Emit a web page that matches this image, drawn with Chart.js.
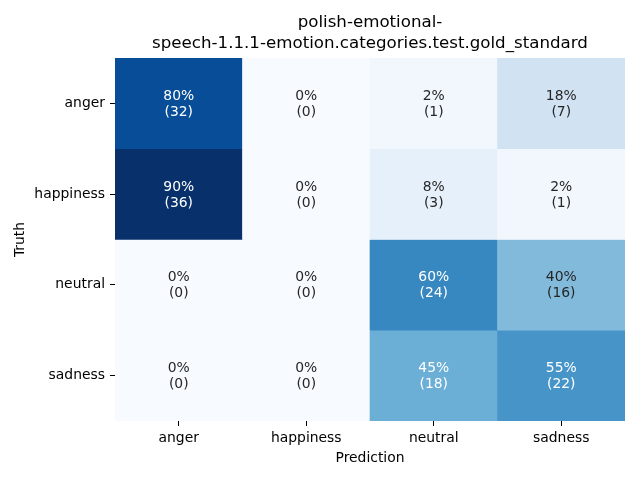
<!DOCTYPE html>
<html>
<head>
<meta charset="utf-8">
<script src="https://cdn.jsdelivr.net/npm/chart.js@4/dist/chart.umd.min.js"></script>
<style>
html,body{margin:0;padding:0;background:#fff;}
#wrap{width:640px;height:480px;}
</style>
</head>
<body>
<div id="wrap"><canvas id="c" width="640" height="480"></canvas></div>
<script>
const titleLines = ["polish-emotional-", "speech-1.1.1-emotion.categories.test.gold_standard"];
const predictionLabels = ["anger", "happiness", "neutral", "sadness"];
const truthLabels = ["anger", "happiness", "neutral", "sadness"];
const angerCounts = [32, 0, 1, 7];
const happinessCounts = [36, 0, 3, 1];
const neutralCounts = [0, 0, 24, 16];
const sadnessCounts = [0, 0, 18, 22];
const countRows = [angerCounts, happinessCounts, neutralCounts, sadnessCounts];

const FONT = "'DejaVu Sans', sans-serif";
const blues = ["#f7fbff","#deebf7","#c6dbef","#9ecae1","#6baed6","#4292c6","#2171b5","#08519c","#08306b"];
function hex2rgb(h){return [1,3,5].map(i=>parseInt(h.substr(i,2),16));}
function bluesAt(t){
  t=Math.max(0,Math.min(1,t));
  const p=t*(blues.length-1); const i=Math.min(Math.floor(p),blues.length-2); const f=p-i;
  const a=hex2rgb(blues[i]), b=hex2rgb(blues[i+1]);
  return a.map((v,k)=>Math.round(v+(b[k]-v)*f));
}
function lum(rgb){
  const c=rgb.map(v=>{v/=255;return v<=0.03928?v/12.92:Math.pow((v+0.055)/1.055,2.4);});
  return 0.2126*c[0]+0.7152*c[1]+0.0722*c[2];
}
function roundHalfEven(x){
  const r=Math.round(x);
  if (Math.abs(x-Math.floor(x)-0.5)<1e-9) { const f=Math.floor(x); return f%2===0?f:f+1; }
  return r;
}
const ratios = countRows.map(r=>{const s=r.reduce((a,b)=>a+b,0);return r.map(v=>v/s);});
const vmax = Math.max(...ratios.flat());
const cellRGB = ratios.map(r=>r.map(v=>bluesAt(v/vmax)));

const datasets = truthLabels.map((t,i)=>({
  label: t,
  data: predictionLabels.map(()=>[i-0.5, i+0.5]),
  backgroundColor: cellRGB[i].map(c=>`rgb(${c[0]},${c[1]},${c[2]})`),
  borderWidth: 0,
  barPercentage: 1,
  categoryPercentage: 1,
  grouped: false
}));

const annot = {
  id: 'annot',
  afterDatasetsDraw(chart){
    const {ctx, scales:{x,y}, chartArea} = chart;
    ctx.save();
    ctx.font = "13.9px " + FONT;
    ctx.textAlign = 'center';
    ctx.textBaseline = 'middle';
    countRows.forEach((row,i)=>{
      row.forEach((cnt,j)=>{
        const cx = x.getPixelForValue(j);
        const cy = y.getPixelForValue(i);
        const rgb = cellRGB[i][j];
        ctx.fillStyle = lum(rgb) > 0.408 ? '#262626' : '#ffffff';
        ctx.fillText(roundHalfEven(ratios[i][j]*100) + '%', cx, cy-7);
        ctx.fillText('(' + cnt + ')', cx, cy+9);
      });
    });
    // title
    ctx.fillStyle = '#000';
    ctx.font = "16.67px " + FONT;
    const tx = (chartArea.left + chartArea.right)/2;
    ctx.fillText(titleLines[0], tx, 23);
    ctx.fillText(titleLines[1], tx, 43.5);
    ctx.restore();
  }
};

new Chart(document.getElementById('c'), {
  type: 'bar',
  data: { labels: predictionLabels, datasets },
  options: {
    responsive: false,
    animation: false,
    devicePixelRatio: 1,
    layout: { padding: { top: 58, right: 15, left: 0, bottom: 0 } },
    plugins: { legend: { display: false }, tooltip: { enabled: false }, title: { display: false } },
    scales: {
      x: {
        type: 'category',
        offset: true,
        grid: { offset: false, drawOnChartArea: false, drawTicks: true, tickLength: 5, tickColor: '#000', lineWidth: 1 },
        border: { display: false },
        ticks: { color: '#000', font: { family: FONT, size: 13.9 }, padding: 4, maxRotation: 0 },
        title: { display: true, text: 'Prediction', color: '#000', font: { family: FONT, size: 13.9 }, padding: { top: 0, bottom: 13 } },
        afterFit(s){ s.height = 59; }
      },
      y: {
        type: 'linear',
        min: -0.5, max: 3.5,
        reverse: true,
        afterBuildTicks(s){ s.ticks = [0,1,2,3].map(v=>({value:v})); },
        grid: { drawOnChartArea: false, drawTicks: true, tickLength: 5, tickColor: '#000', lineWidth: 1 },
        border: { display: false },
        ticks: { color: '#000', font: { family: FONT, size: 13.9 }, padding: 5, callback: v => truthLabels[v] },
        title: { display: true, text: 'Truth', color: '#000', font: { family: FONT, size: 13.9 }, padding: { top: 12, bottom: 0 } },
        afterFit(s){ s.width = 115; }
      }
    }
  },
  plugins: [annot]
});
</script>
</body>
</html>
